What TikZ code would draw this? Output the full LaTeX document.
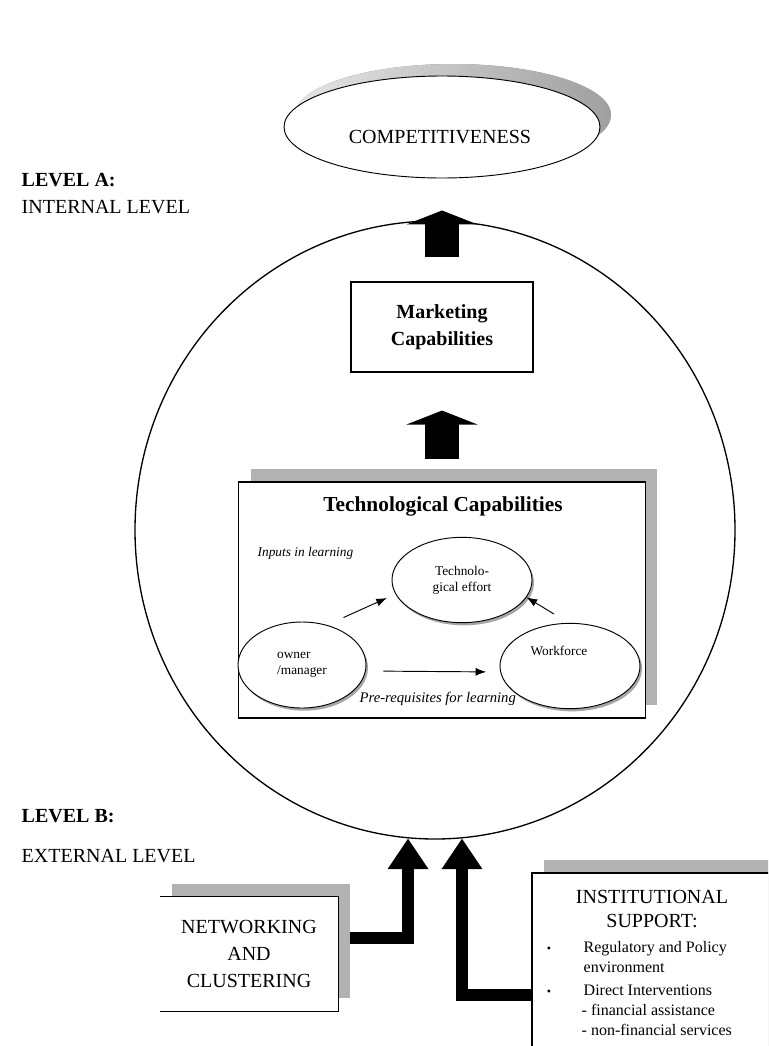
\documentclass[tikz,border=0pt]{standalone}
\usepackage{fontspec}
\setmainfont{Liberation Serif}
\usetikzlibrary{shapes.geometric}
\usetikzlibrary{arrows.meta}
\usetikzlibrary{shadows}

\begin{document}
\begin{tikzpicture}[x=0.75pt, y=-0.75pt,
	oval/.style={ellipse, draw, fill=white, inner sep=0pt, line width=0.7pt},
	lowshade/.style={drop shadow={shadow xshift=1.5pt, shadow yshift=-2pt, fill=gray!70, opacity=1}},
	raised/.style={drop shadow={shadow xshift=9pt, shadow yshift=9.75pt, fill=gray!60, opacity=1}},
	bigfont/.style={font=\fontsize{15}{18}\selectfont},
	boldfont/.style={font=\bfseries\fontsize{15}{18}\selectfont},
	smallfont/.style={font=\fontsize{10}{12}\selectfont},
	thin arrow/.style={-{Latex[length=8pt,width=6pt]}, line width=0.7pt},
	block arrow/.style={line width=25pt, -{Triangle[length=10.5pt,width=53pt]}},
	feed/.style={line width=8.5pt, -{Triangle[length=23pt,width=29pt]}}]
\useasboundingbox (0,0) rectangle (768,1046);
\clip (0,0) rectangle (768,1046);

% goal on top
\node[oval, minimum width=237pt, minimum height=76.5pt,
	drop shadow={shadow xshift=8.25pt, shadow yshift=9pt, left color=gray!20, right color=gray!75, opacity=1}] (comp) at (442,127) {};
\node[bigfont, anchor=base] (comptext) at (440,143) {COMPETITIVENESS};

\node[anchor=base west, boldfont] (levA) at (17,186) {LEVEL A:};
\node[anchor=base west, bigfont] (levAtext) at (17,213) {INTERNAL LEVEL};

% firm level
\node[ellipse, draw, line width=1pt, inner sep=0pt, minimum width=450pt, minimum height=463.5pt] (circ) at (435,530) {};

\node[draw, fill=white, line width=0.8pt, minimum width=136.5pt, minimum height=67.5pt, align=center,
	font=\bfseries\fontsize{15}{20}\selectfont] (mkt) at (442,327) {Marketing\\Capabilities};

\node[draw, fill=white, line width=0.8pt, minimum width=305pt, minimum height=177pt, raised] (tech) at (442,600) {};
\node[anchor=base, font=\bfseries\fontsize{16}{19}\selectfont] (techtitle) at (443,511) {Technological Capabilities};
\node[anchor=base west, font=\itshape\fontsize{10}{12}\selectfont] (inputs) at (253,556) {Inputs in learning};

\node[oval, lowshade, smallfont, align=center, minimum width=105pt, minimum height=64pt] (techeff) at (462,580) {Technolo-\\gical effort};
\node[oval, lowshade, smallfont, align=left, minimum width=96pt, minimum height=64.5pt] (owner) at (302,665) {owner\\/manager};
\node[oval, lowshade, minimum width=105pt, minimum height=64pt] (work) at (570,666) {};
\node[anchor=base, smallfont] (worktext) at (559,655) {Workforce};

\draw[thin arrow, shorten <=13.5pt, shorten >=7pt] (owner.58) -- (techeff.192);
\draw[thin arrow, shorten <=12.75pt] (work.92) -- (techeff.-15);
\draw[thin arrow, shorten <=12.75pt, shorten >=10pt] ([yshift=-4.5pt]owner.east) -- ([yshift=-4.5pt]work.west);
\node[anchor=base west, font=\itshape\fontsize{11}{13}\selectfont] (prereq) at (355,702) {Pre-requisites for learning};

\draw[block arrow] ([yshift=16.5pt]tech.north) -- ([yshift=-28.5pt]mkt.south);
\draw[block arrow] ([yshift=18pt]mkt.north) -- ([yshift=-24pt]comp.south);

% outside the firm
\node[anchor=base west, boldfont] (levB) at (17,822) {LEVEL B:};
\node[anchor=base west, bigfont] (levBtext) at (17,862) {EXTERNAL LEVEL};

\node[fill=white, minimum width=133.5pt, minimum height=85.5pt, align=center, raised,
	font=\fontsize{15}{20.5}\selectfont] (net) at (249,954) {NETWORKING\\AND\\CLUSTERING};
\draw[line width=0.8pt] (net.north west) -- (net.north east) -- (net.south east) -- (net.south west);

\node[draw, fill=white, line width=0.8pt, minimum width=201pt, minimum height=183pt, raised] (inst) at (666,995) {};
\node[anchor=base, bigfont] (insttitle) at (652,903) {INSTITUTIONAL};
\node[anchor=base, bigfont] (instsub) at (652,927) {SUPPORT:};
\node[anchor=base, font=\fontsize{9}{11}\selectfont] (dot1) at (549,952) {\textbullet};
\node[anchor=base, font=\fontsize{9}{11}\selectfont] (dot2) at (549,995) {\textbullet};
\node[anchor=base west, font=\fontsize{12}{14}\selectfont] (inst1) at (579,952) {Regulatory and Policy};
\node[anchor=base west, font=\fontsize{12}{14}\selectfont] (inst2) at (579,972) {environment};
\node[anchor=base west, font=\fontsize{12}{14}\selectfont] (inst3) at (579,995) {Direct Interventions};
\node[anchor=base west, font=\fontsize{12}{14}\selectfont] (inst4) at (577,1015) {- financial assistance};
\node[anchor=base west, font=\fontsize{12}{14}\selectfont] (inst5) at (577,1035) {- non-financial services};

\draw[feed] ([xshift=9pt, yshift=12pt]net.east) -| (circ.-95);
\draw[feed] (inst.west) -| (circ.-85);
\end{tikzpicture}
\end{document}
